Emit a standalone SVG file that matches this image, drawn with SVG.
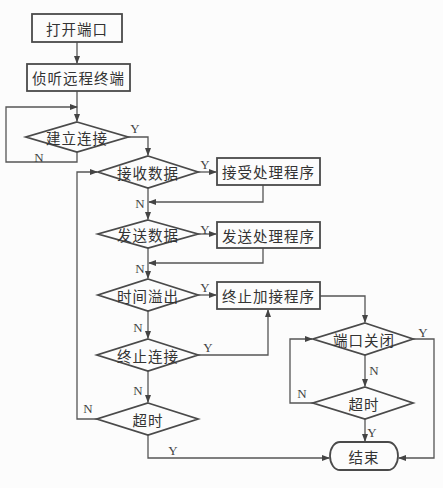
<svg xmlns="http://www.w3.org/2000/svg" width="443" height="488" viewBox="0 0 443 488">
<defs>
<style>
.s{fill:none;stroke:#4a4a4a;stroke-width:1.8}
.c{fill:none;stroke:#555;stroke-width:1.3}
.t{font-family:"Noto Sans CJK SC",sans-serif;font-size:14.5px;fill:#333;text-anchor:middle;dominant-baseline:central;letter-spacing:1px}
.l{font-family:"Liberation Serif",serif;font-size:13px;fill:#444;text-anchor:middle;dominant-baseline:central}
</style>
<marker id="a" markerWidth="8" markerHeight="6" refX="7" refY="3" orient="auto" markerUnits="userSpaceOnUse">
<path d="M0,0 L8,3 L0,6 Z" fill="#444"/>
</marker>
</defs>
<rect width="443" height="488" fill="#fcfcfc"/>
<g id="connectors">
<path class="c" d="M77,42 V63" marker-end="url(#a)"/>
<path class="c" d="M77,91 V121" marker-end="url(#a)"/>
<path class="c" d="M77,152 V162 H6 V107 H77" marker-end="url(#a)"/>
<path class="c" d="M128,137 H148 V155" marker-end="url(#a)"/>
<path class="c" d="M198,172 H216" marker-end="url(#a)"/>
<path class="c" d="M263,185 V202 H149" marker-end="url(#a)"/>
<path class="c" d="M148,188 V219" marker-end="url(#a)"/>
<path class="c" d="M198,234 H216" marker-end="url(#a)"/>
<path class="c" d="M263,248 V263 H149" marker-end="url(#a)"/>
<path class="c" d="M148,248 V278" marker-end="url(#a)"/>
<path class="c" d="M198,295 H216" marker-end="url(#a)"/>
<path class="c" d="M148,311 V338" marker-end="url(#a)"/>
<path class="c" d="M198,355 H268 V310" marker-end="url(#a)"/>
<path class="c" d="M148,371 V402" marker-end="url(#a)"/>
<path class="c" d="M97,419 H77 V172 H97" marker-end="url(#a)"/>
<path class="c" d="M148,435 V458 H329" marker-end="url(#a)"/>
<path class="c" d="M320,296 H365 V322" marker-end="url(#a)"/>
<path class="c" d="M365,355 V386" marker-end="url(#a)"/>
<path class="c" d="M313,403 H290 V339 H312" marker-end="url(#a)"/>
<path class="c" d="M365,419 V441" marker-end="url(#a)"/>
<path class="c" d="M413,339 H434 V458 H399" marker-end="url(#a)"/>
<text class="l" x="135" y="128">Y</text>
<text class="l" x="39" y="157">N</text>
<text class="l" x="205" y="164">Y</text>
<text class="l" x="140" y="203">N</text>
<text class="l" x="205" y="229">Y</text>
<text class="l" x="140" y="268">N</text>
<text class="l" x="205" y="287">Y</text>
<text class="l" x="138" y="327">N</text>
<text class="l" x="208" y="347">Y</text>
<text class="l" x="138" y="390">N</text>
<text class="l" x="88" y="408">N</text>
<text class="l" x="173" y="450">Y</text>
<text class="l" x="423" y="332">Y</text>
<text class="l" x="374" y="370">N</text>
<text class="l" x="302" y="393">N</text>
<text class="l" x="372" y="432">Y</text>
</g>
<g id="n1"><rect class="s" x="32" y="14" width="90" height="28"/><text class="t" x="77" y="28">打开端口</text></g>
<g id="n2"><rect class="s" x="27" y="64" width="103" height="27"/><text class="t" x="78.5" y="77.5">侦听远程终端</text></g>
<g id="n3"><polygon class="s" points="77,122 128,137 77,152 26,137"/><text class="t" x="77" y="137">建立连接</text></g>
<g id="n4"><polygon class="s" points="148,156 198,172 148,188 98,172"/><text class="t" x="148" y="172">接收数据</text></g>
<g id="n5"><rect class="s" x="217" y="158" width="103" height="27"/><text class="t" x="268.5" y="171.5">接受处理程序</text></g>
<g id="n6"><polygon class="s" points="148,220 198,234 148,248 98,234"/><text class="t" x="148" y="234">发送数据</text></g>
<g id="n7"><rect class="s" x="217" y="222" width="103" height="26"/><text class="t" x="268.5" y="235">发送处理程序</text></g>
<g id="n8"><polygon class="s" points="148,279 198,295 148,311 98,295"/><text class="t" x="148" y="295">时间溢出</text></g>
<g id="n9"><rect class="s" x="217" y="282" width="103" height="27"/><text class="t" x="268.5" y="295.5">终止加接程序</text></g>
<g id="n10"><polygon class="s" points="148,339 198,355 148,371 97,355"/><text class="t" x="148" y="355">终止连接</text></g>
<g id="n11"><polygon class="s" points="148,403 198,419 148,435 97,419"/><text class="t" x="148" y="419">超时</text></g>
<g id="n12"><polygon class="s" points="365,323 413,339 365,355 313,339"/><text class="t" x="364" y="339">端口关闭</text></g>
<g id="n13"><polygon class="s" points="365,387 413,403 365,419 313,403"/><text class="t" x="364" y="403">超时</text></g>
<g id="n14"><rect class="s" x="330" y="442" width="68" height="28" rx="10" ry="14"/><text class="t" x="364" y="456">结束</text></g>
</svg>
